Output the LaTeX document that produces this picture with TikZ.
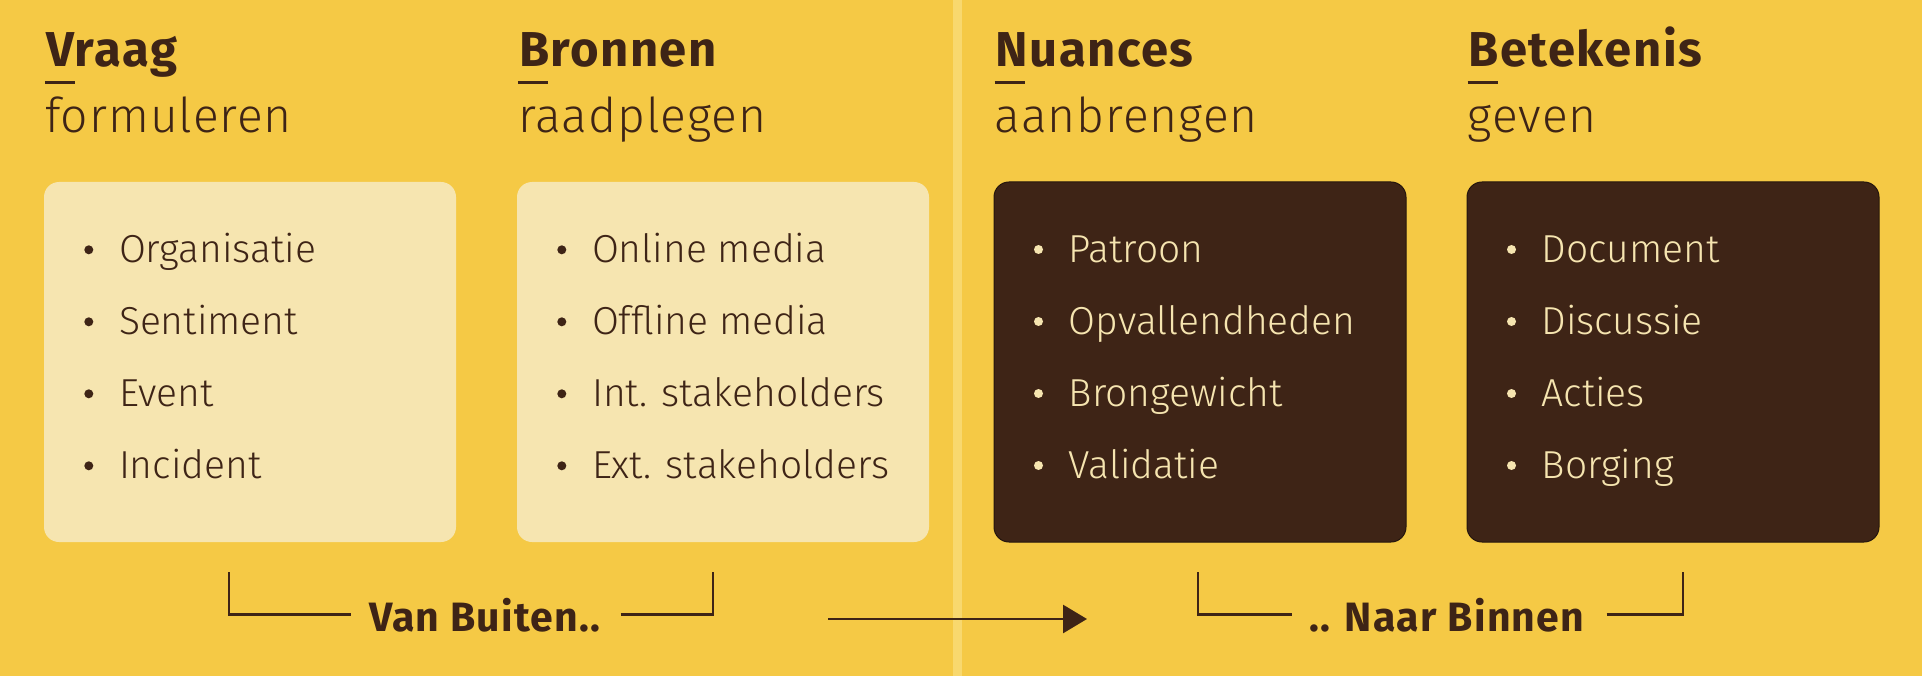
\documentclass[tikz,border=0pt]{standalone}
\usepackage{fontspec}
\usetikzlibrary{arrows.meta}
\setmainfont{Fira Sans}[UprightFont=* Light, BoldFont=* Bold]
\newfontfamily\kopfont{Fira Sans Bold}[LetterSpace=3]
\newfontfamily\subfont{Fira Sans Light}[LetterSpace=2]
\definecolor{achtergrond}{HTML}{F5C945}
\definecolor{scheiding}{HTML}{F8D86E}
\definecolor{kaartlicht}{HTML}{F6E5B0}
\definecolor{kaartdonker}{HTML}{3E2416}
\definecolor{inkt}{HTML}{3E2416}
\begin{document}
\begin{tikzpicture}[x=1pt,y=-1pt,
    kaart/.style={rounded corners=15pt, minimum width=412pt, minimum height=360pt, inner sep=0pt},
    lichtkaart/.style={kaart, fill=kaartlicht},
    donkerkaart/.style={kaart, fill=kaartdonker, draw=black!40!kaartdonker, line width=1pt},
    kop/.style={anchor=base west, inner sep=0pt, text=inkt, font=\kopfont\fontsize{49}{49}\selectfont},
    subkop/.style={anchor=base west, inner sep=0pt, text=inkt, font=\subfont\fontsize{48}{48}\selectfont},
    punt/.style={anchor=base west, inner sep=0pt, font=\fontsize{39}{39}\selectfont},
    fase/.style={anchor=base west, inner sep=0pt, text=inkt, font=\kopfont\fontsize{41}{41}\selectfont},
    haak/.style={draw=inkt, line width=2.7pt}]
    % background and divider
    \fill[achtergrond] (0,0) rectangle (1922,676);
    \fill[scheiding] (953,0) rectangle (962,676);
    \coordinate (koplijn) at (0,67);
    \coordinate (balklijn) at (0,83);
    \coordinate (sublijn) at (0,133);
    % the four steps
    \foreach \naam/\cx/\stijl/\kleur/\kop/\sub/\lijst in {
        vraag/250/lichtkaart/inkt/Vraag/formuleren/{Organisatie,Sentiment,Event,Incident},
        bronnen/723/lichtkaart/inkt/Bronnen/raadplegen/{Online media,Offline media,Int. stakeholders,Ext. stakeholders},
        nuances/1200/donkerkaart/kaartlicht/Nuances/aanbrengen/{Patroon,Opvallendheden,Brongewicht,Validatie},
        betekenis/1673/donkerkaart/kaartlicht/Betekenis/geven/{Document,Discussie,Acties,Borging}}
    {
        \node[\stijl] (\naam) at (\cx,362) {};
        \node[kop] (\naam-kop) at ([xshift=2pt]\naam.west |- koplijn) {\kop};
        \draw[inkt, line width=3pt] ([xshift=1pt]\naam.west |- balklijn) -- ++(30,0);
        \node[subkop] (\naam-sub) at ([xshift=1pt]\naam.west |- sublijn) {\sub};
        \foreach \woord [count=\i] in \lijst {
            \node[punt, text=\kleur] (\naam-\i) at ([shift={(75,9+72*\i)}]\naam.north west) {\woord};
            \fill[\kleur] ([shift={(-30,-13)}]\naam-\i.base west) circle[radius=4.5pt];
        }
    }
    % bottom labels and brackets
    \node[fase] (buiten) at (369,631) {Van Buiten..};
    \node[fase] (binnen) at (1309,631) {.. Naar Binnen};
    \coordinate (buiten-l) at (229,572);
    \coordinate (buiten-r) at (713,572);
    \coordinate (binnen-l) at (1198,572);
    \coordinate (binnen-r) at (1683,572);
    \draw[haak] (buiten-l) |- ([xshift=-18pt]buiten.west);
    \draw[haak] ([xshift=20pt]buiten.east) -| (buiten-r);
    \draw[haak] (binnen-l) |- ([xshift=-17pt]binnen.west);
    \draw[haak] ([xshift=22pt]binnen.east) -| (binnen-r);
    \coordinate (pijl-start) at (828,619);
    \coordinate (pijl-eind) at (1087,619);
    \draw[inkt, line width=2.7pt, -{Triangle[length=24pt, width=28pt]}] (pijl-start) -- (pijl-eind);
\end{tikzpicture}
\end{document}
